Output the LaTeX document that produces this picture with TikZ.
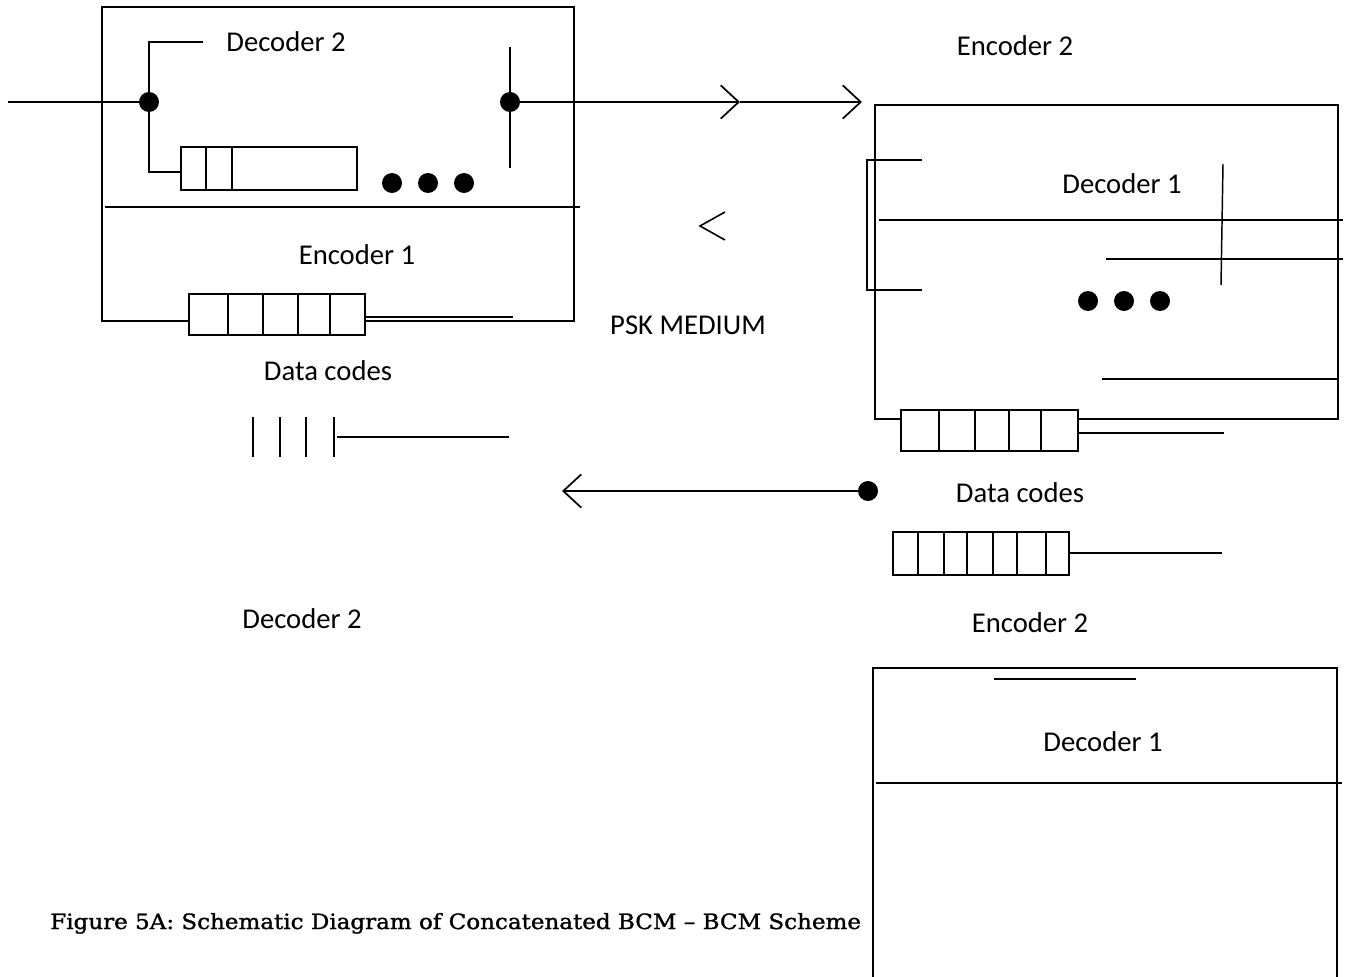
\documentclass[tikz,border=0pt]{standalone}
\usepackage{fontspec}
\usepackage{graphicx}
\usetikzlibrary{arrows.meta,positioning}
\newfontfamily\labelfont{Carlito}
\newfontfamily\capfont[FakeBold=1.3]{DejaVu Serif}

\begin{document}
\begin{tikzpicture}[x=0.75pt,y=-0.75pt,
    lbl/.style={font=\labelfont\fontsize{21.5}{25}\selectfont,inner sep=0pt},
    dot/.style={circle,fill,inner sep=0pt,minimum size=15pt},
    frame/.style={line width=1.5pt},
    thin/.style={line width=1.1pt},
    reg/.style={line width=1.1pt,fill=white},
    barb/.style={line width=1.7pt,-{Straight Barb[length=13.5pt,width=25pt,line width=1.3pt]}}]
    \useasboundingbox (0,0) rectangle (1349,977);

    % sender (decoder 2 / encoder 1)
    \draw[frame] (102,7) rectangle (574,321);
    \draw[thin] (105,207) -- (580,207);
    \node[lbl] (dec2a) at (286,42) {Decoder 2};
    \node[lbl] (enc1) at (357,255) {Encoder 1};
    \coordinate (in) at (8,102);
    \node[dot] (dA) at (149,102) {};
    \node[dot] (dB) at (510,102) {};
    \coordinate (brtop) at (203,42);
    \coordinate (dregin) at (181,172);
    \draw[thin] (in) -- (dA);
    \draw[thin] (brtop) -| (dA) |- (dregin);
    \draw[reg] (181,147) rectangle (357,190);
    \foreach \x in {206,232}
        \draw[thin] (\x,147) -- (\x,190);
    \foreach \x in {392,428,464}
        \fill (\x,183) circle (7.5pt);
    \draw[thin] (510,47) -- (510,168);
    \draw[thin] (365,317) -- (513,317);
    \draw[reg] (189,294) rectangle (365,335);
    \foreach \x in {228,263,298,330}
        \draw[thin] (\x,294) -- (\x,335);

    % medium
    \coordinate (mid) at (740,102);
    \coordinate (rin) at (862,102);
    \draw[barb] (dB) -- (mid);
    \draw[barb] (mid) -- (rin);
    \draw[line width=1.2pt] (725,212) -- (700,226) -- (725,240);
    \node[lbl] (psk) at (688,325) {PSK MEDIUM};
    \node[lbl] (data1) at (328,371) {Data codes};
    \foreach \x in {253,280,306,334}
        \draw[thin] (\x,417) -- (\x,457);
    \draw[thin] (337,437) -- (509,437);
    \node[dot] (dC) at (868,491) {};
    \coordinate (ret) at (562,491);
    \draw[barb] (dC) -- (ret);
    \node[lbl] (dec2b) at (302,619) {Decoder 2};

    % receiver (encoder 2 / decoder 1)
    \node[lbl] (enc2a) at (1015,46) {Encoder 2};
    \draw[frame] (875,105) rectangle (1338,419);
    \draw[thin] (922,160) -- (867,160) -- (867,290) -- (922,290);
    \node[lbl] (dec1a) at (1122,184) {Decoder 1};
    \draw[thin] (879,220) -- (1343,220);
    \draw[thin] (1106,259) -- (1343,259);
    \draw[thin] (1223,164) -- (1221,285);
    \foreach \x in {1088,1124,1160}
        \fill (\x,301) circle (7.5pt);
    \draw[thin] (1102,379) -- (1338,379);
    \draw[thin] (1078,433) -- (1224,433);
    \draw[reg] (901,410) rectangle (1078,451);
    \foreach \x in {939,975,1009,1041}
        \draw[thin] (\x,410) -- (\x,451);
    \node[lbl] (data2) at (1020,493) {Data codes};
    \draw[thin] (1069,553) -- (1222,553);
    \draw[reg] (893,532) rectangle (1069,575);
    \foreach \x in {918,944,967,993,1017,1046}
        \draw[thin] (\x,532) -- (\x,575);
    \node[lbl] (enc2b) at (1030,623) {Encoder 2};

    % lower box
    \draw[frame] (873,977) -- (873,668) -- (1337,668) -- (1337,977);
    \draw[thin] (994,679) -- (1136,679);
    \node[lbl] (dec1b) at (1103,742) {Decoder 1};
    \draw[frame] (876,783) -- (1342,783);

    \node[anchor=base west,inner sep=0pt] (cap) at (50,929)
        {\resizebox{608pt}{12pt}{\capfont Figure 5A: Schematic Diagram of Concatenated BCM – BCM Scheme}};
\end{tikzpicture}
\end{document}
